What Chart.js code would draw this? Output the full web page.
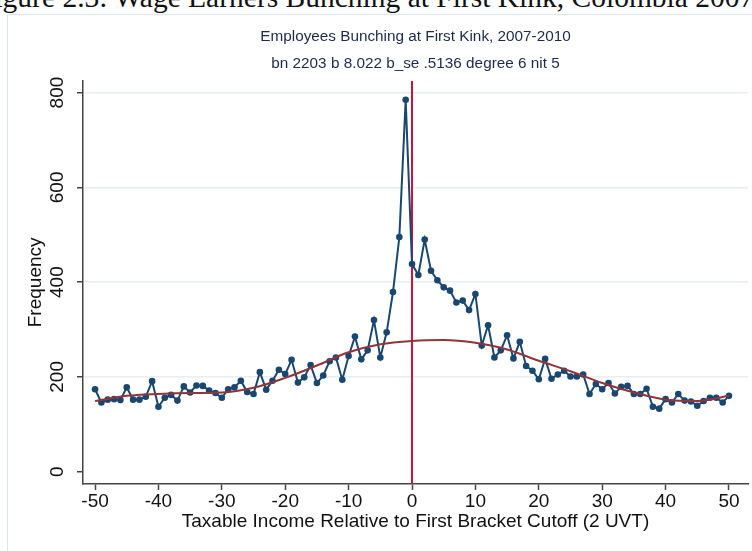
<!DOCTYPE html>
<html lang="en">
  <head>
    <meta charset="UTF-8" />
    <title>Employees Bunching at First Kink</title>
    <script src="https://cdn.jsdelivr.net/npm/chart.js"></script>
    <style>
      body { margin: 0; background: #fff; overflow: hidden; }
      #wrap { position: relative; width: 752px; height: 551px; overflow: hidden; }
      #caption {
        position: absolute; left: -22px; top: -16.7px; white-space: nowrap;
        font-family: "Liberation Serif", serif; font-size: 29.5px; line-height: 1; color: #111;
      }
      #frame {
        position: absolute; left: 7px; top: 14px; width: 800px; height: 600px;
        border: 1px solid #dde6ec;
      }
      #chartBox { position: absolute; left: 0; top: 0; width: 752px; height: 551px; }
    </style>
  </head>
  <body>
    <div id="wrap">
      <div id="caption">Figure 2.3: Wage Earners Bunching at First Kink, Colombia 2007</div>
      <div id="frame"></div>
      <div id="chartBox"><canvas id="bunchChart"></canvas></div>
    </div>

    <script>
      // bins relative to the first bracket cutoff
      const bins = [
        -50, -49, -48, -47, -46, -45, -44, -43, -42, -41, -40, -39, -38, -37, -36, -35, -34,
        -33, -32, -31, -30, -29, -28, -27, -26, -25, -24, -23, -22, -21, -20, -19, -18, -17,
        -16, -15, -14, -13, -12, -11, -10, -9, -8, -7, -6, -5, -4, -3, -2, -1, 0, 1, 2, 3, 4,
        5, 6, 7, 8, 9, 10, 11, 12, 13, 14, 15, 16, 17, 18, 19, 20, 21, 22, 23, 24, 25, 26, 27,
        28, 29, 30, 31, 32, 33, 34, 35, 36, 37, 38, 39, 40, 41, 42, 43, 44, 45, 46, 47, 48,
        49, 50,
      ];
      const frequency = [
        174, 146, 152, 153, 151, 178, 152, 152, 158, 191, 137, 156, 162, 150, 180, 167, 182,
        181, 171, 166, 156, 174, 178, 192, 168, 164, 210, 173, 192, 215, 206, 236, 188, 199,
        225, 187, 203, 233, 241, 194, 244, 285, 237, 256, 320, 241, 294, 379, 495, 785, 438,
        415, 490, 424, 404, 389, 382, 357, 361, 341, 375, 266, 309, 241, 256, 288, 239, 274,
        223, 213, 195, 238, 196, 205, 213, 201, 201, 205, 164, 185, 174, 187, 165, 179, 181,
        164, 164, 175, 137, 133, 153, 146, 164, 150, 148, 139, 149, 156, 156, 146, 160,
      ];
      // counterfactual polynomial fit, read every 5 bins
      const fitBins = [-50, -45, -40, -35, -30, -25, -20, -15, -10, -5, 0, 5, 10, 15, 20, 25, 30, 35, 40, 45, 50];
      const fitValues = [149, 160, 164, 166, 167, 177, 198, 224, 252, 269, 276, 278, 272, 258, 234, 212, 187, 167, 152, 149, 160];
      const cutoff = 0;
      const xTicks = [-50, -40, -30, -20, -10, 0, 10, 20, 30, 40, 50];
      const yTicks = [0, 200, 400, 600, 800];

      const yMin = -26;
      const yMax = 825;
      const navy = "#1a476f";
      const maroon = "#90353b";
      const sans = "'Liberation Sans', Arial, sans-serif";
      const axisFont = { family: sans, size: 19, lineHeight: 1.2 };

      const ctx = document.getElementById("bunchChart").getContext("2d");
      new Chart(ctx, {
        type: "line",
        data: {
          datasets: [
            {
              data: bins.map((b, i) => ({ x: b, y: frequency[i] })),
              borderColor: navy,
              backgroundColor: navy,
              borderWidth: 2,
              pointRadius: 3.3,
              pointBorderWidth: 0,
              order: 2,
            },
            {
              data: fitBins.map((b, i) => ({ x: b, y: fitValues[i] })),
              borderColor: maroon,
              borderWidth: 2,
              pointRadius: 0,
              cubicInterpolationMode: "monotone",
              order: 1,
            },
            {
              data: [{ x: cutoff, y: yMin }, { x: cutoff, y: yMax }],
              borderColor: "#c8143c",
              borderWidth: 2,
              pointRadius: 0,
              order: 3,
            },
          ],
        },
        options: {
          responsive: true,
          maintainAspectRatio: false,
          animation: false,
          layout: { padding: 0 },
          plugins: {
            legend: { display: false },
            tooltip: { enabled: false },
            title: {
              display: true,
              fullSize: false,
              text: "Employees Bunching at First Kink, 2007-2010",
              color: "#1c2a4a",
              font: { family: sans, size: 15.3, weight: "normal", lineHeight: 1.2 },
              padding: { top: 27.8, bottom: 8.6 },
            },
            subtitle: {
              display: true,
              fullSize: false,
              text: "bn 2203 b 8.022 b_se .5136 degree 6 nit 5",
              color: "#1c2a4a",
              font: { family: sans, size: 15.3, weight: "normal", lineHeight: 1.2 },
              padding: { top: 0, bottom: 7.6 },
            },
          },
          scales: {
            x: {
              type: "linear",
              min: -51.9,
              max: 53,
              afterBuildTicks: (s) => { s.ticks = xTicks.map((v) => ({ value: v })); },
              afterFit: (s) => { s.height = 67; },
              border: { color: "#444", width: 1.5 },
              grid: { drawOnChartArea: false, tickColor: "#444", tickLength: 6, tickWidth: 1.5 },
              ticks: { color: "#111", font: axisFont, padding: 0, maxRotation: 0, autoSkip: false, callback: (v) => String(v) },
              title: {
                display: true,
                text: "Taxable Income Relative to First Bracket Cutoff (2 UVT)",
                color: "#111",
                font: axisFont,
                padding: { top: 0, bottom: 18 },
              },
            },
            y: {
              type: "linear",
              min: yMin,
              max: yMax,
              afterBuildTicks: (s) => { s.ticks = yTicks.map((v) => ({ value: v })); },
              afterFit: (s) => { s.width = 83; },
              border: { color: "#444", width: 1.5 },
              grid: {
                color: (c) => (c.tick && c.tick.value === 0 ? "rgba(0,0,0,0)" : "#e8eef2"),
                lineWidth: 1.5,
                tickColor: "#444",
                tickLength: 6,
                tickWidth: 1.5,
              },
              ticks: {
                color: "#111",
                font: axisFont,
                minRotation: 90,
                maxRotation: 90,
                crossAlign: "center",
                padding: 3,
                autoSkip: false,
                callback: (v) => String(v),
              },
              title: {
                display: true,
                text: "Frequency",
                color: "#111",
                font: axisFont,
                padding: { top: 24, bottom: 0 },
              },
            },
          },
        },
      });
    </script>
  </body>
</html>
